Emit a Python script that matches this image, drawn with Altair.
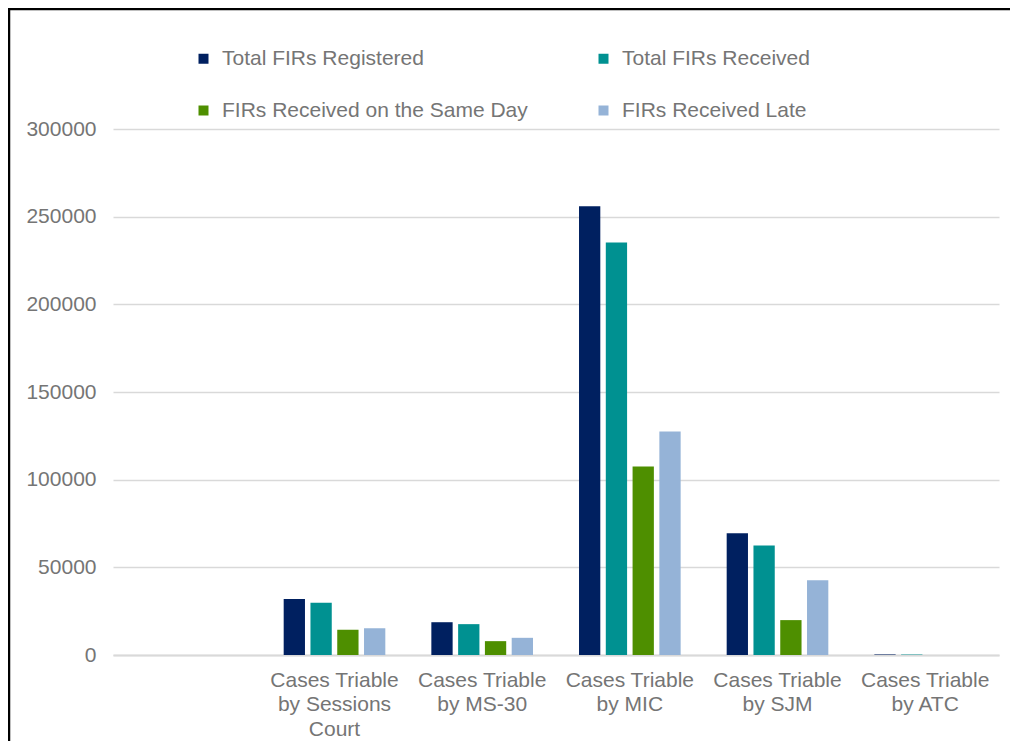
import altair as alt
import pandas as pd

categories = [" ", "Cases Triable\nby Sessions\nCourt", "Cases Triable\nby MS-30",
              "Cases Triable\nby MIC", "Cases Triable\nby SJM", "Cases Triable\nby ATC"]
series = ["Total FIRs Registered", "Total FIRs Received",
          "FIRs Received on the Same Day", "FIRs Received Late"]
colors = ["#002060", "#009191", "#4E8F00", "#95B3D7"]

# values for categories[1:]
registered = [32000, 18700, 256000, 69400, 300]
received = [29800, 17600, 235200, 62500, 250]
same_day = [14400, 7900, 107500, 19900, 0]
late = [15300, 9800, 127500, 42700, 0]

rows = []
for vals, s in zip([registered, received, same_day, late], series):
    for c, v in zip(categories[1:], vals):
        rows.append({"category": c, "series": s, "value": v})
df = pd.DataFrame(rows)

FONT = "Liberation Sans"
GRAY = "#757575"

bars = alt.Chart(df).mark_bar().encode(
    x=alt.X("category:N", sort=categories,
            scale=alt.Scale(domain=categories, paddingInner=0.27, paddingOuter=0.135),
            axis=alt.Axis(title=None, labelAngle=0, ticks=False, domain=True,
                          domainColor="#d9d9d9", domainWidth=2,
                          labelExpr="split(datum.label, '\\n')",
                          labelLineHeight=24.5, labelPadding=14,
                          labelFont=FONT, labelFontSize=21, labelColor=GRAY,
                          labelBaseline="top")),
    xOffset=alt.XOffset("series:N", sort=series,
                        scale=alt.Scale(domain=series, paddingInner=0.205, paddingOuter=0.115)),
    y=alt.Y("value:Q", scale=alt.Scale(domain=[0, 300000]),
            axis=alt.Axis(title=None, values=[0, 50000, 100000, 150000, 200000, 250000, 300000],
                          format="d", ticks=False, domain=False, grid=True,
                          gridColor="#d9d9d9", gridWidth=1.5, labelPadding=17,
                          labelFont=FONT, labelFontSize=21, labelColor=GRAY)),
    color=alt.Color("series:N", sort=series,
                    scale=alt.Scale(domain=series, range=colors),
                    legend=alt.Legend(title=None, orient="none", legendX=80, legendY=-81,
                                      direction="horizontal",
                                      columns=2, columnPadding=65, rowPadding=30,
                                      symbolType="square", symbolSize=100,
                                      symbolStrokeWidth=0, labelOffset=8, labelLimit=500,
                                      labelFont=FONT, labelFontSize=21, labelColor=GRAY)),
)

one = pd.DataFrame({"a": [0]})
top_line = alt.Chart(one).mark_rule(color="black", strokeWidth=2.5).encode(
    x=alt.value(-105), x2=alt.value(897), y=alt.value(-120)
)
left_line = alt.Chart(one).mark_rule(color="black", strokeWidth=2.5).encode(
    x=alt.value(-104), y=alt.value(-121), y2=alt.value(612)
)

chart = alt.layer(bars, top_line, left_line).properties(
    width=886, height=526,
    autosize=alt.AutoSizeParams(type="none"),
    padding={"left": 105, "top": 121, "right": 11, "bottom": 86},
).configure_view(stroke=None)

chart.save("out.html", embed_options={"renderer": "svg", "actions": False})
